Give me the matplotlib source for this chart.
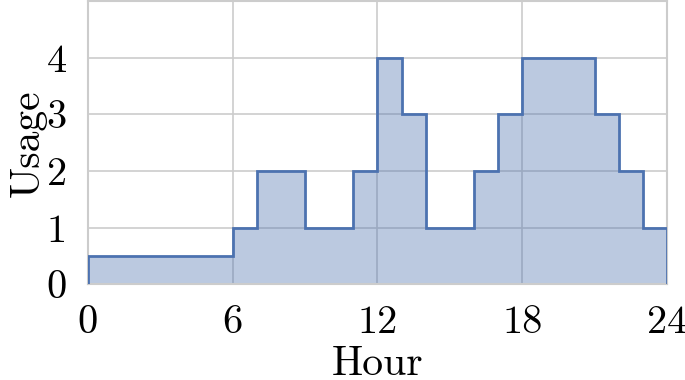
import matplotlib.pyplot as plt
import numpy as np

hours = np.arange(0, 25)
usage = [0.5, 0.5, 0.5, 0.5, 0.5, 0.5, 1, 2, 2, 1, 1, 2,
         4, 3, 1, 1, 2, 3, 4, 4, 4, 3, 2, 1]
xticks = [0, 6, 12, 18, 24]
yticks = [0, 1, 2, 3, 4]

plt.rcParams['font.family'] = 'serif'
plt.rcParams['font.serif'] = ['cmr10']
plt.rcParams['mathtext.fontset'] = 'cm'
plt.rcParams['axes.unicode_minus'] = False

fig = plt.figure(figsize=(6.85, 3.8), dpi=100)
ax = fig.add_axes([0.128, 0.252, 0.846, 0.745])

color = '#4c72b0'
ax.stairs(usage, hours, fill=True, color=color, alpha=0.38, lw=0, zorder=2)
ax.stairs(usage, hours, color=color, lw=2.0, zorder=3)

ax.set_xlim(0, 24)
ax.set_ylim(0, 5)
ax.set_xticks(xticks)
ax.set_yticks(yticks)
ax.tick_params(length=0, labelsize=29)
ax.tick_params(axis='x', pad=15)
ax.tick_params(axis='y', pad=15)
ax.grid(True, color='#cccccc', lw=1.2, zorder=1)
ax.set_axisbelow(True)
for s in ax.spines.values():
    s.set_color('#cccccc')
    s.set_linewidth(1.5)

ax.set_xlabel('Hour', fontsize=30, labelpad=3)
ax.set_ylabel('Usage', fontsize=30, labelpad=0)

fig.savefig('out.png', dpi=100)
